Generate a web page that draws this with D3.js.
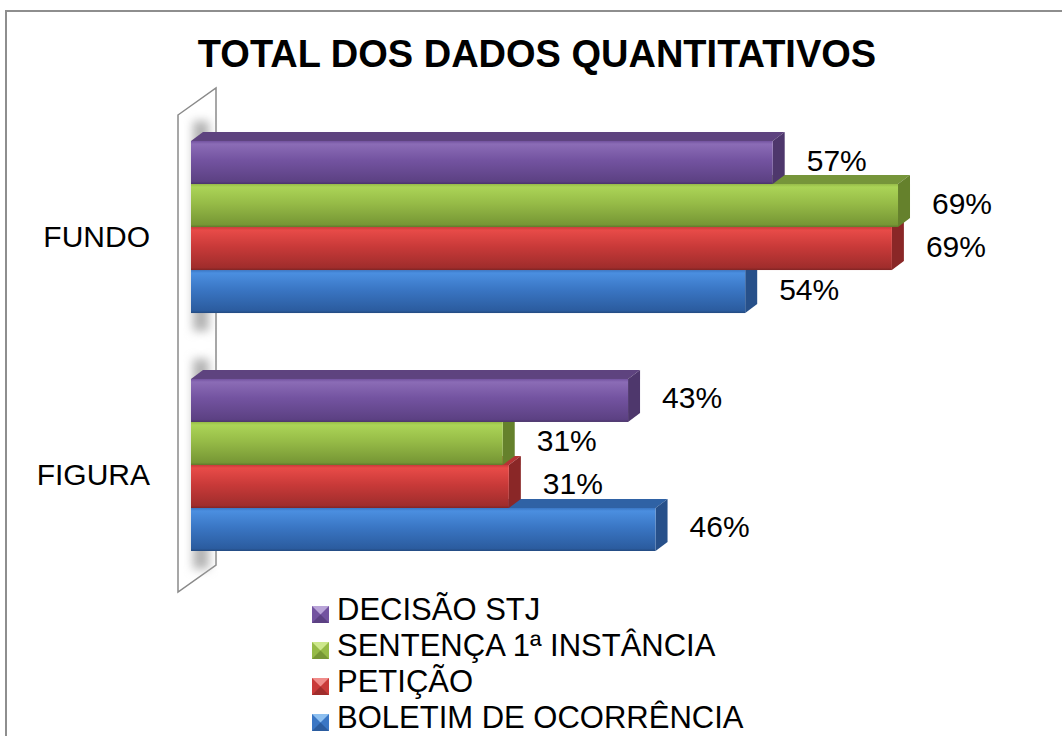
<!DOCTYPE html>
<html>
<head>
<meta charset="utf-8">
<script src="https://cdn.jsdelivr.net/npm/d3@7"></script>
<style>
  body { margin: 0; background: #fff; }
  svg { display: block; font-family: "Liberation Sans", Arial, sans-serif; }
</style>
</head>
<body>
<svg width="1062" height="736"></svg>
<script>
var categories = ["FUNDO", "FIGURA"];
var series = ["DECISÃO STJ", "SENTENÇA 1ª INSTÂNCIA", "PETIÇÃO", "BOLETIM DE OCORRÊNCIA"];
var fundoValues = [57.1, 69.4, 68.8, 54.4];
var figuraValues = [42.9, 30.6, 31.2, 45.6];

var svg = d3.select("svg"),
	width = +svg.attr("width"),
	height = +svg.attr("height");

// colours per series: front top, front mid, front bottom, top face, side face, marker light
var palette = [
	{hi: "#8b6cb6", mid: "#7353a0", lo: "#5c4183", top: "#5e437f", side: "#4e376c", light: "#b9a4d8"},
	{hi: "#abd457", mid: "#96bb47", lo: "#779735", top: "#76953a", side: "#65812c", light: "#cde88c"},
	{hi: "#e84b48", mid: "#c93a39", lo: "#a02d2c", top: "#b33434", side: "#8a2727", light: "#f08c8a"},
	{hi: "#4b8fe0", mid: "#3a76c4", lo: "#2b5c9f", top: "#2f62a5", side: "#27508a", light: "#8ec0f0"}
];

var data = categories.map(function(c, i) {
	var vals = i == 0 ? fundoValues : figuraValues;
	return {category: c, values: series.map(function(s, j) { return {series: s, idx: j, value: vals[j]}; })};
});

var x = d3.scaleLinear().domain([0, 80]).range([191, 1006]);
var y = d3.scaleBand().domain(categories).range([108, 584]).paddingInner(0.277).paddingOuter(0.1387);
var yIn = d3.scaleBand().domain(series).range([0, y.bandwidth()]);

var dx = 12, dy = 9; // bar depth
var fmt = d3.format(".0f");

var defs = svg.append("defs");
palette.forEach(function(p, i) {
	var g = defs.append("linearGradient").attr("id", "grad" + i)
		.attr("x1", 0).attr("y1", 0).attr("x2", 0).attr("y2", 1);
	g.append("stop").attr("offset", "0").attr("stop-color", p.mid);
	g.append("stop").attr("offset", "0.07").attr("stop-color", p.hi);
	g.append("stop").attr("offset", "0.45").attr("stop-color", p.mid);
	g.append("stop").attr("offset", "0.94").attr("stop-color", p.lo);
	g.append("stop").attr("offset", "1").attr("stop-color", d3.color(p.lo).darker(0.6));
});
defs.append("filter").attr("id", "blur")
	.attr("x", "-150%").attr("y", "-30%").attr("width", "400%").attr("height", "160%")
	.append("feGaussianBlur").attr("stdDeviation", 5);

// chart border
svg.append("rect")
	.attr("x", 6).attr("y", 11)
	.attr("width", width + 20).attr("height", height + 20)
	.attr("fill", "#fff").attr("stroke", "#8e8e8e").attr("stroke-width", 2);

// title
svg.append("text")
	.attr("x", 537).attr("y", 67)
	.attr("text-anchor", "middle")
	.style("font-size", "38px").style("font-weight", "bold")
	.text("TOTAL DOS DADOS QUANTITATIVOS");

// left wall
svg.append("path")
	.attr("d", "M178,115 L216,88 L216,565 L178,592 Z")
	.attr("fill", "#fff").attr("stroke", "#8a8a8a").attr("stroke-width", 1.5);

// soft shadow on the wall behind each group
svg.selectAll(".shadow")
	.data(data)
	.enter().append("rect")
		.attr("class", "shadow")
		.attr("x", 193).attr("width", 16)
		.attr("y", function(d) { return y(d.category) - 20; })
		.attr("height", y.bandwidth() + 38)
		.attr("fill", "#b4b4b4")
		.attr("filter", "url(#blur)");

// bars
var group = svg.selectAll(".group")
	.data(data)
	.enter().append("g")
		.attr("class", "group")
		.attr("transform", function(d) { return "translate(0," + y(d.category) + ")"; });

var bar = group.selectAll(".bar")
	.data(function(d) { return d.values.slice().reverse(); })
	.enter().append("g")
		.attr("class", "bar");

// top face
bar.append("path")
	.attr("d", function(d) {
		var x0 = x(0), x1 = x(d.value), y0 = yIn(d.series);
		return "M" + x0 + "," + y0 + "L" + (x0 + dx) + "," + (y0 - dy) + "L" + (x1 + dx) + "," + (y0 - dy) + "L" + x1 + "," + y0 + "Z";
	})
	.attr("fill", function(d) { return palette[d.idx].top; });

// side face
bar.append("path")
	.attr("d", function(d) {
		var x1 = x(d.value), y0 = yIn(d.series), h = yIn.bandwidth();
		return "M" + x1 + "," + y0 + "L" + (x1 + dx) + "," + (y0 - dy) + "L" + (x1 + dx) + "," + (y0 + h - dy) + "L" + x1 + "," + (y0 + h) + "Z";
	})
	.attr("fill", function(d) { return palette[d.idx].side; });

// front face
bar.append("rect")
	.attr("x", x(0))
	.attr("y", function(d) { return yIn(d.series); })
	.attr("width", function(d) { return x(d.value) - x(0); })
	.attr("height", yIn.bandwidth())
	.attr("fill", function(d) { return "url(#grad" + d.idx + ")"; });

// value labels
group.selectAll(".val")
	.data(function(d) { return d.values; })
	.enter().append("text")
		.attr("class", "val")
		.attr("x", function(d) { return x(d.value) + 34; })
		.attr("y", function(d) { return yIn(d.series) + yIn.bandwidth() / 2 + 8; })
		.style("font-size", "30px")
		.text(function(d) { return fmt(d.value) + "%"; });

// category labels
svg.selectAll(".cat")
	.data(categories)
	.enter().append("text")
		.attr("class", "cat")
		.attr("x", 150)
		.attr("y", function(d) { return y(d) + y.bandwidth() / 2 + 20; })
		.attr("text-anchor", "end")
		.style("font-size", "30px")
		.text(function(d) { return d; });

// legend
var legend = svg.selectAll(".legend")
	.data(series)
	.enter().append("g")
		.attr("class", "legend")
		.attr("transform", function(d, i) { return "translate(312," + (620 + i * 36) + ")"; });

legend.append("rect")
	.attr("x", 0).attr("y", -14)
	.attr("width", 17).attr("height", 17)
	.attr("fill", function(d, i) { return palette[i].mid; });

legend.append("path")
	.attr("d", "M0,-14 L17,-14 L8.5,-5.5 Z")
	.attr("fill", function(d, i) { return palette[i].light; });

legend.append("path")
	.attr("d", "M0,3 L17,3 L8.5,-5.5 Z")
	.attr("fill", function(d, i) { return palette[i].lo; });

legend.append("text")
	.attr("x", 25).attr("y", 0)
	.style("font-size", "31px")
	.text(function(d) { return d; });
</script>
</body>
</html>
